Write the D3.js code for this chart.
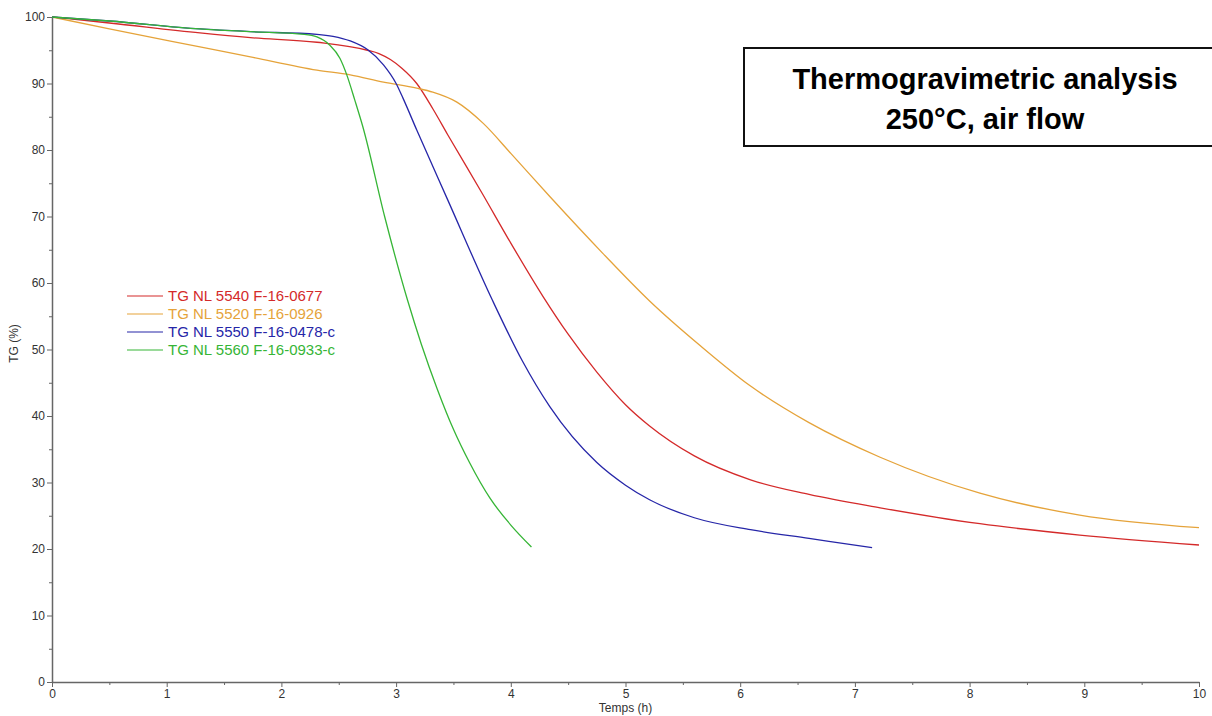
<!DOCTYPE html>
<html>
<head>
<meta charset="utf-8">
<script src="https://cdn.jsdelivr.net/npm/d3@7"></script>
<style>
  body { margin: 0; background: #fff; }
  svg { font-family: "Liberation Sans", Arial, sans-serif; }
  .axis path, .axis line { stroke: #666; }
  .axis text { fill: #333; font-size: 12px; }
</style>
</head>
<body>
<svg id="chart" width="1212" height="716"></svg>
<script>
// series (hours, TG %)
const seriesNames = ['TG NL 5540 F-16-0677', 'TG NL 5520 F-16-0926', 'TG NL 5550 F-16-0478-c', 'TG NL 5560 F-16-0933-c'];
const seriesColors = ['#d42a2a', '#e5a33a', '#2626a8', '#36b536'];

const redHours = [0, 0.5, 1.29, 1.73, 2.31, 2.75, 2.85, 2.95, 3.05, 3.18, 3.32, 3.45, 3.75, 4.0, 4.28, 4.5, 4.75, 5.0, 5.21, 5.6, 6.09, 6.6, 7.22, 8.09, 8.96, 10];
const redTG    = [100, 99.1, 97.6, 96.9, 96.2, 95.0, 94.5, 93.6, 92.3, 90.0, 86.2, 82.3, 73.5, 66.0, 58.0, 52.3, 46.6, 41.7, 38.5, 34.0, 30.4, 28.2, 26.2, 23.8, 22.1, 20.6];

const orangeHours = [0, 0.5, 1.29, 1.73, 2.31, 2.60, 2.89, 3.18, 3.32, 3.53, 3.76, 4.0, 4.34, 4.8, 5.21, 5.65, 6.09, 6.6, 7.22, 8.09, 8.96, 10];
const orangeTG    = [100, 98.2, 95.5, 94.0, 92.0, 91.3, 90.2, 89.3, 88.7, 87.2, 84.0, 79.5, 73.0, 64.5, 57.3, 50.6, 44.5, 39.0, 33.8, 28.4, 25.1, 23.2];

const blueHours = [0, 0.5, 1.29, 1.73, 2.31, 2.45, 2.60, 2.75, 2.89, 3.0, 3.06, 3.18, 3.45, 3.84, 4.1, 4.34, 4.75, 5.0, 5.21, 5.6, 6.09, 6.6, 7.15];
const blueTG    = [100, 99.4, 98.2, 97.8, 97.4, 97.1, 96.4, 95.1, 92.8, 90.0, 87.8, 83.0, 72.5, 57.4, 48.3, 41.4, 33.0, 29.6, 27.4, 24.7, 22.9, 21.6, 20.2];

const greenHours = [0, 0.5, 1.29, 1.73, 2.2, 2.31, 2.42, 2.51, 2.57, 2.64, 2.71, 2.9, 3.10, 3.22, 3.36, 3.5, 3.64, 3.82, 4.0, 4.18];
const greenTG    = [100, 99.4, 98.2, 97.8, 97.4, 97.0, 95.8, 93.8, 91.3, 87.5, 83.5, 70.0, 57.4, 50.8, 44.0, 38.0, 33.0, 27.6, 23.6, 20.3];

const xTicks = [0, 1, 2, 3, 4, 5, 6, 7, 8, 9, 10];
const yTicks = [0, 10, 20, 30, 40, 50, 60, 70, 80, 90, 100];

const allHours = [redHours, orangeHours, blueHours, greenHours];
const allTG = [redTG, orangeTG, blueTG, greenTG];

const margin = { top: 17, right: 13, bottom: 34, left: 52 };
const svg = d3.select('#chart');
const width = 1212 - margin.left - margin.right;
const height = 716 - margin.top - margin.bottom;

const chart = svg.append('g')
    .attr('transform', `translate(${margin.left},${margin.top})`);

const xScale = d3.scaleLinear().domain([0, 10]).range([0, width]);
const yScale = d3.scaleLinear().domain([0, 100]).range([height, 0]);

// minor ticks first, then major ones on top
chart.append('g')
    .attr('class', 'axis')
    .attr('transform', `translate(0,${height})`)
    .call(d3.axisBottom(xScale).tickValues(d3.range(0.5, 10, 1)).tickSize(3).tickFormat(''))
    .call(g => g.select('.domain').remove());
chart.append('g')
    .attr('class', 'axis')
    .call(d3.axisLeft(yScale).tickValues(d3.range(5, 100, 10)).tickSize(3).tickFormat(''))
    .call(g => g.select('.domain').remove());

const xAxisGroup = chart.append('g')
    .attr('class', 'axis')
    .attr('transform', `translate(0,${height})`)
    .call(d3.axisBottom(xScale).tickValues(xTicks).tickSize(5).tickSizeOuter(0).tickPadding(2).tickFormat(d3.format('d')));
xAxisGroup.select('.domain').attr('stroke-width', 1.5);

const yAxisGroup = chart.append('g')
    .attr('class', 'axis')
    .call(d3.axisLeft(yScale).tickValues(yTicks).tickSize(5).tickSizeOuter(0).tickPadding(2).tickFormat(d3.format('d')));
yAxisGroup.select('.domain').attr('stroke-width', 1.5);

// axis titles
svg.append('text')
    .attr('x', margin.left + width / 2)
    .attr('y', 712)
    .attr('text-anchor', 'middle')
    .attr('font-size', 12)
    .attr('fill', '#333')
    .text('Temps (h)');

const yTitle = svg.append('text')
    .attr('x', 18)
    .attr('y', margin.top + height / 2 - 6)
    .attr('text-anchor', 'middle')
    .attr('font-size', 12)
    .attr('fill', '#333')
    .text('TG (%)');
yTitle.attr('transform', `rotate(270, ${yTitle.attr('x')}, ${yTitle.attr('y')})`);

// curves
const line = d3.line()
    .x(d => xScale(d[0]))
    .y(d => yScale(d[1]))
    .curve(d3.curveMonotoneX);

chart.selectAll('.curve')
    .data(seriesNames.map((n, i) => allHours[i].map((h, j) => [h, allTG[i][j]])))
    .join('path')
        .attr('class', 'curve')
        .attr('fill', 'none')
        .attr('stroke', (d, i) => seriesColors[i])
        .attr('stroke-width', 1.3)
        .attr('d', line);

// legend
const legend = svg.append('g').attr('transform', 'translate(127,296)');
seriesNames.forEach((name, i) => {
    const row = legend.append('g').attr('transform', `translate(0,${i * 18})`);
    row.append('line')
        .attr('x1', 0).attr('x2', 36)
        .attr('y1', 0).attr('y2', 0)
        .attr('stroke', seriesColors[i])
        .attr('stroke-width', 1.2);
    row.append('text')
        .attr('x', 41)
        .attr('y', 5)
        .attr('font-size', 15)
        .attr('fill', seriesColors[i])
        .text(name);
});

// title box
svg.append('rect')
    .attr('x', 744)
    .attr('y', 48)
    .attr('width', 480)
    .attr('height', 98)
    .attr('fill', '#fff')
    .attr('stroke', '#111')
    .attr('stroke-width', 2);

const title = svg.append('text')
    .attr('text-anchor', 'middle')
    .attr('font-weight', 'bold')
    .attr('font-size', 29)
    .attr('fill', '#000');
title.append('tspan').attr('x', 985).attr('y', 89).text('Thermogravimetric analysis');
title.append('tspan').attr('x', 985).attr('y', 129).text('250°C, air flow');
</script>
</body>
</html>
